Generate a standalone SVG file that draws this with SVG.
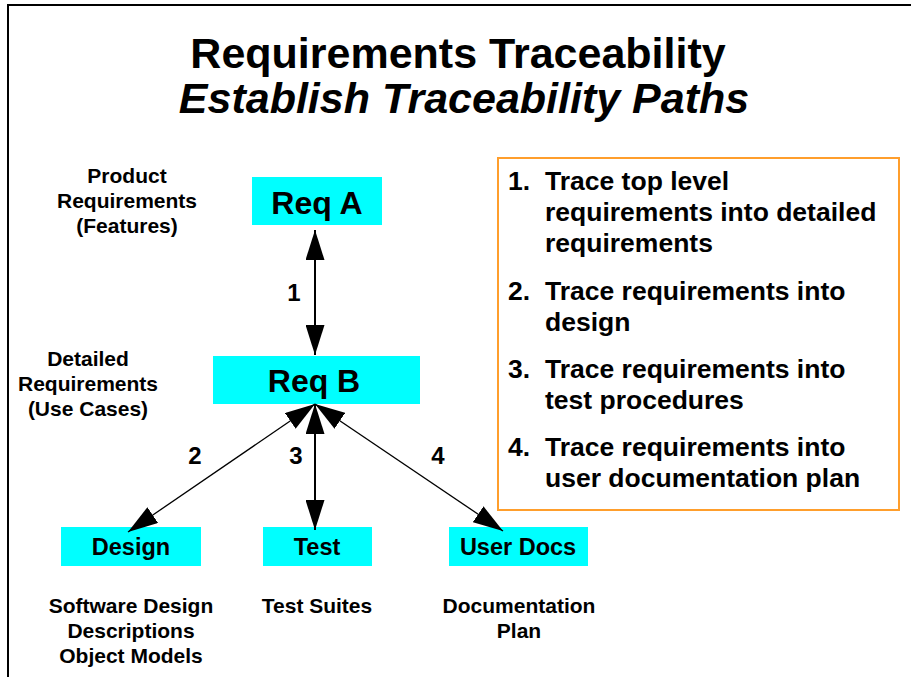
<svg xmlns="http://www.w3.org/2000/svg" width="911" height="677" viewBox="0 0 911 677">
<style>
text{font-family:"Liberation Sans",Arial,sans-serif;font-weight:bold;fill:#000}
.title{font-size:43px;text-anchor:middle}
.it{font-style:italic}
.box{fill:#00FFFF;stroke:none}
.big{font-size:32px;text-anchor:middle}
.mid{font-size:23.5px;text-anchor:middle}
.lbl{font-size:21px;text-anchor:middle}
.num{font-size:24px;text-anchor:middle}
.list{font-size:26.5px}
.thick{stroke:#000;stroke-width:2;fill:none}
.thin{stroke:#000;stroke-width:1.3;fill:none}
</style>
<defs>
<marker id="ah" markerUnits="userSpaceOnUse" markerWidth="30" markerHeight="19" refX="30" refY="9.5" orient="auto-start-reverse" viewBox="0 0 30 19">
<path d="M0,0 L30,9.5 L0,19 Z" fill="#000"/>
</marker>
</defs>
<rect width="911" height="677" fill="#fff"/>
<g id="frame">
<path d="M8,678 L8,5 L912,5" fill="none" stroke="#000" stroke-width="2"/>
</g>
<g id="title">
<text class="title" x="458" y="68">Requirements Traceability</text>
<text class="title it" x="464" y="113">Establish Traceability Paths</text>
</g>
<g id="label-product">
<text class="lbl" x="127" y="183">Product</text>
<text class="lbl" x="127" y="208">Requirements</text>
<text class="lbl" x="127" y="233">(Features)</text>
</g>
<g id="label-detailed">
<text class="lbl" x="88" y="366">Detailed</text>
<text class="lbl" x="88" y="391">Requirements</text>
<text class="lbl" x="88" y="416">(Use Cases)</text>
</g>
<g id="reqA">
<rect class="box" x="252" y="177" width="130" height="48"/>
<text class="big" x="317" y="214">Req A</text>
</g>
<g id="reqB">
<rect class="box" x="213" y="356" width="207" height="48"/>
<text class="big" x="314" y="392">Req B</text>
</g>
<g id="design">
<rect class="box" x="61" y="527" width="140" height="39"/>
<text class="mid" x="131" y="555">Design</text>
</g>
<g id="test">
<rect class="box" x="263" y="527" width="109" height="39"/>
<text class="mid" x="317" y="555">Test</text>
</g>
<g id="userdocs">
<rect class="box" x="449" y="527" width="139" height="39"/>
<text class="mid" x="518" y="555">User Docs</text>
</g>
<g id="label-design">
<text class="lbl" x="131" y="613">Software Design</text>
<text class="lbl" x="131" y="638">Descriptions</text>
<text class="lbl" x="131" y="663">Object Models</text>
</g>
<g id="label-test">
<text class="lbl" x="317" y="613">Test Suites</text>
</g>
<g id="label-docs">
<text class="lbl" x="519" y="613">Documentation</text>
<text class="lbl" x="519" y="638">Plan</text>
</g>
<g id="connectors">
<line class="thick" x1="315" y1="230" x2="315" y2="355" marker-start="url(#ah)" marker-end="url(#ah)"/>
<line class="thin" x1="315" y1="404" x2="128" y2="532" marker-start="url(#ah)" marker-end="url(#ah)"/>
<line class="thick" x1="315" y1="404" x2="315" y2="530" marker-start="url(#ah)" marker-end="url(#ah)"/>
<line class="thin" x1="315" y1="404" x2="503" y2="531" marker-start="url(#ah)" marker-end="url(#ah)"/>
<text class="num" x="294" y="301">1</text>
<text class="num" x="195" y="464">2</text>
<text class="num" x="296" y="464">3</text>
<text class="num" x="438" y="464">4</text>
</g>
<g id="steps">
<rect x="498" y="158" width="401" height="352" fill="#fff" stroke="#FF9E2C" stroke-width="2"/>
<text class="list" x="508" y="190">1.</text>
<text class="list" x="545" y="190">Trace top level</text>
<text class="list" x="545" y="221">requirements into detailed</text>
<text class="list" x="545" y="252">requirements</text>
<text class="list" x="508" y="300">2.</text>
<text class="list" x="545" y="300">Trace requirements into</text>
<text class="list" x="545" y="331">design</text>
<text class="list" x="508" y="378">3.</text>
<text class="list" x="545" y="378">Trace requirements into</text>
<text class="list" x="545" y="409">test procedures</text>
<text class="list" x="508" y="456">4.</text>
<text class="list" x="545" y="456">Trace requirements into</text>
<text class="list" x="545" y="487">user documentation plan</text>
</g>
</svg>
